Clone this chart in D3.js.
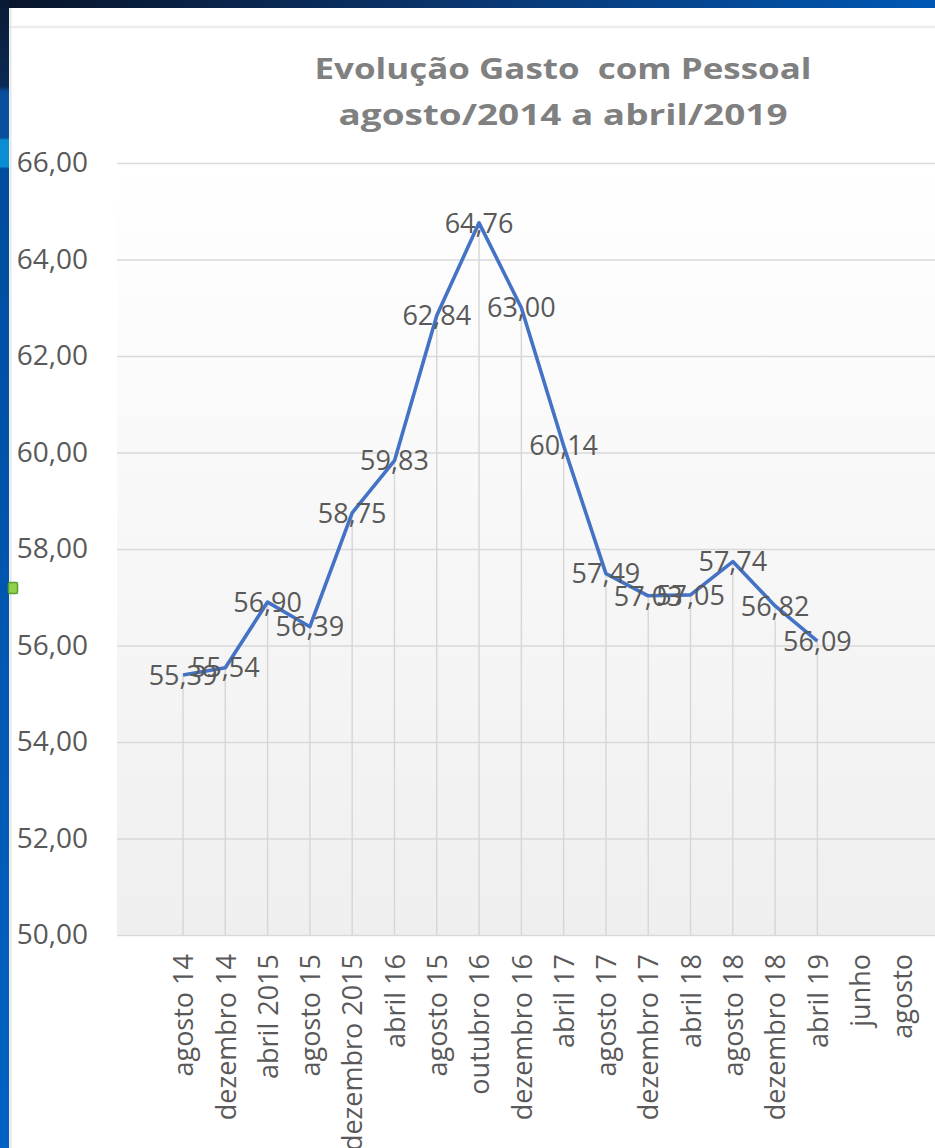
<!DOCTYPE html>
<html>
<head>
<meta charset="utf-8">
<script src="https://cdn.jsdelivr.net/npm/d3@7"></script>
<style>
  html, body { margin: 0; padding: 0; background: #fff; }
  svg { display: block; }
</style>
</head>
<body>
<svg id="chart" width="935" height="1148"></svg>
<script>
// data
const categories = ['agosto 14', 'dezembro 14', 'abril 2015', 'agosto 15', 'dezembro 2015', 'abril 16',
  'agosto 15 ', 'outubro 16', 'dezembro 16', 'abril 17', 'agosto 17', 'dezembro 17', 'abril 18',
  'agosto 18', 'dezembro 18', 'abril 19', 'junho', 'agosto']
const values = [55.39, 55.54, 56.90, 56.39, 58.75, 59.83, 62.84, 64.76, 63.00, 60.14, 57.49, 57.03,
  57.05, 57.74, 56.82, 56.09, null, null]
const yTicks = [50, 52, 54, 56, 58, 60, 62, 64, 66]
const titleLines = ['Evolução Gasto  com Pessoal', 'agosto/2014 a abril/2019']

const W = 935, H = 1148
const plot = {left: 117, right: 935, top: 163, bottom: 935}
const titleWidths = [497, 449]

const ptBR = d3.formatLocale({decimal: ',', thousands: '.', grouping: [3], currency: ['R$', '']})
const fmt = ptBR.format('.2f')

const svg = d3.select('#chart')
const defs = svg.append('defs')

// slide frame: top band + left strip
const topGrad = defs.append('linearGradient').attr('id', 'topband').attr('x1', 0).attr('x2', 1)
topGrad.append('stop').attr('offset', 0).attr('stop-color', '#081428')
topGrad.append('stop').attr('offset', 0.5).attr('stop-color', '#0a3670')
topGrad.append('stop').attr('offset', 1).attr('stop-color', '#0058b4')

const leftGrad = defs.append('linearGradient').attr('id', 'leftstrip').attr('x1', 0).attr('x2', 0).attr('y1', 0).attr('y2', 1)
leftGrad.append('stop').attr('offset', 0).attr('stop-color', '#0a1a34')
leftGrad.append('stop').attr('offset', 0.075).attr('stop-color', '#0c2a55')
leftGrad.append('stop').attr('offset', 0.08).attr('stop-color', '#0a4e9e')
leftGrad.append('stop').attr('offset', 0.12).attr('stop-color', '#0a4e9e')
leftGrad.append('stop').attr('offset', 0.122).attr('stop-color', '#0a8ed2')
leftGrad.append('stop').attr('offset', 0.145).attr('stop-color', '#0a8ed2')
leftGrad.append('stop').attr('offset', 0.147).attr('stop-color', '#004c9e')
leftGrad.append('stop').attr('offset', 1).attr('stop-color', '#0062c4')

const plotGrad = defs.append('linearGradient').attr('id', 'plotbg').attr('x1', 0).attr('x2', 0).attr('y1', 0).attr('y2', 1)
plotGrad.append('stop').attr('offset', 0).attr('stop-color', '#ffffff')
plotGrad.append('stop').attr('offset', 1).attr('stop-color', '#efefef')

svg.append('rect').attr('width', W).attr('height', H).attr('fill', '#fff')
svg.append('rect').attr('width', W).attr('height', 8).attr('fill', 'url(#topband)')
svg.append('rect').attr('width', 9).attr('height', H).attr('fill', 'url(#leftstrip)')
svg.append('line').attr('x1', 9).attr('x2', W).attr('y1', 27).attr('y2', 27)
  .attr('stroke', '#ececec').attr('stroke-width', 2.5)
svg.append('line').attr('x1', 10.5).attr('x2', 10.5).attr('y1', 8).attr('y2', H)
  .attr('stroke', '#e6e6e6').attr('stroke-width', 2)

// scales
const x = d3.scalePoint().domain(categories).range([183, 902])
const y = d3.scaleLinear().domain([50, 66]).range([plot.bottom, plot.top])

svg.append('rect').attr('x', plot.left).attr('y', plot.top)
  .attr('width', plot.right - plot.left).attr('height', plot.bottom - plot.top)
  .attr('fill', 'url(#plotbg)')

// y axis with gridlines
const yAxis = svg.append('g').attr('transform', `translate(${plot.left},0)`)
  .call(d3.axisLeft(y).tickValues(yTicks).tickFormat(fmt)
    .tickSize(-(plot.right - plot.left)).tickPadding(29))
yAxis.select('.domain').remove()
yAxis.selectAll('line').attr('stroke', '#d9d9d9').attr('stroke-width', 1.6)
yAxis.selectAll('text').attr('fill', '#595959')
  .style('font-family', '"Open Sans", sans-serif').style('font-size', '28px')

// drop lines from each point
const pts = categories.map((c, i) => ({c, v: values[i]})).filter(d => d.v !== null)
svg.append('g').selectAll('line').data(pts).join('line')
  .attr('x1', d => x(d.c)).attr('x2', d => x(d.c))
  .attr('y1', d => y(d.v)).attr('y2', plot.bottom)
  .attr('stroke', '#d6d6d6').attr('stroke-width', 1.4)

// x axis
const xAxis = svg.append('g').attr('transform', `translate(0,${plot.bottom})`)
  .call(d3.axisBottom(x).tickSize(0))
xAxis.select('.domain').remove()
xAxis.selectAll('text')
  .attr('transform', 'rotate(-90)')
  .attr('x', -19).attr('y', 0).attr('dy', '0.36em')
  .style('text-anchor', 'end')
  .attr('fill', '#595959')
  .style('font-family', '"Open Sans", sans-serif').style('font-size', '27px')

// line
const line = d3.line().x(d => x(d.c)).y(d => y(d.v))
svg.append('path').datum(pts).attr('d', line)
  .attr('fill', 'none').attr('stroke', '#4472c4').attr('stroke-width', 3.6)
  .attr('stroke-linejoin', 'round')

// data labels, centred on points
svg.append('g').selectAll('text').data(pts).join('text')
  .attr('x', d => x(d.c)).attr('y', d => y(d.v)).attr('dy', '0.36em')
  .attr('text-anchor', 'middle').attr('fill', '#595959')
  .style('font-family', '"Open Sans", sans-serif').style('font-size', '27px')
  .text(d => fmt(d.v))

// title
svg.append('g').selectAll('text').data(titleLines).join('text')
  .attr('x', 563).attr('y', (d, i) => 79 + i * 46)
  .attr('text-anchor', 'middle').attr('fill', '#808080')
  .attr('textLength', (d, i) => titleWidths[i]).attr('lengthAdjust', 'spacingAndGlyphs')
  .style('font-family', '"Open Sans", sans-serif').style('font-weight', '700').style('font-size', '29px')
  .style('white-space', 'pre')
  .text(d => d)

// selection handle left of the chart
svg.append('rect').attr('x', 8.5).attr('y', 582.5).attr('width', 9).attr('height', 11)
  .attr('rx', 1.5).attr('fill', '#92d050').attr('stroke', '#5a9e2a').attr('stroke-width', 1.5)
</script>
</body>
</html>
